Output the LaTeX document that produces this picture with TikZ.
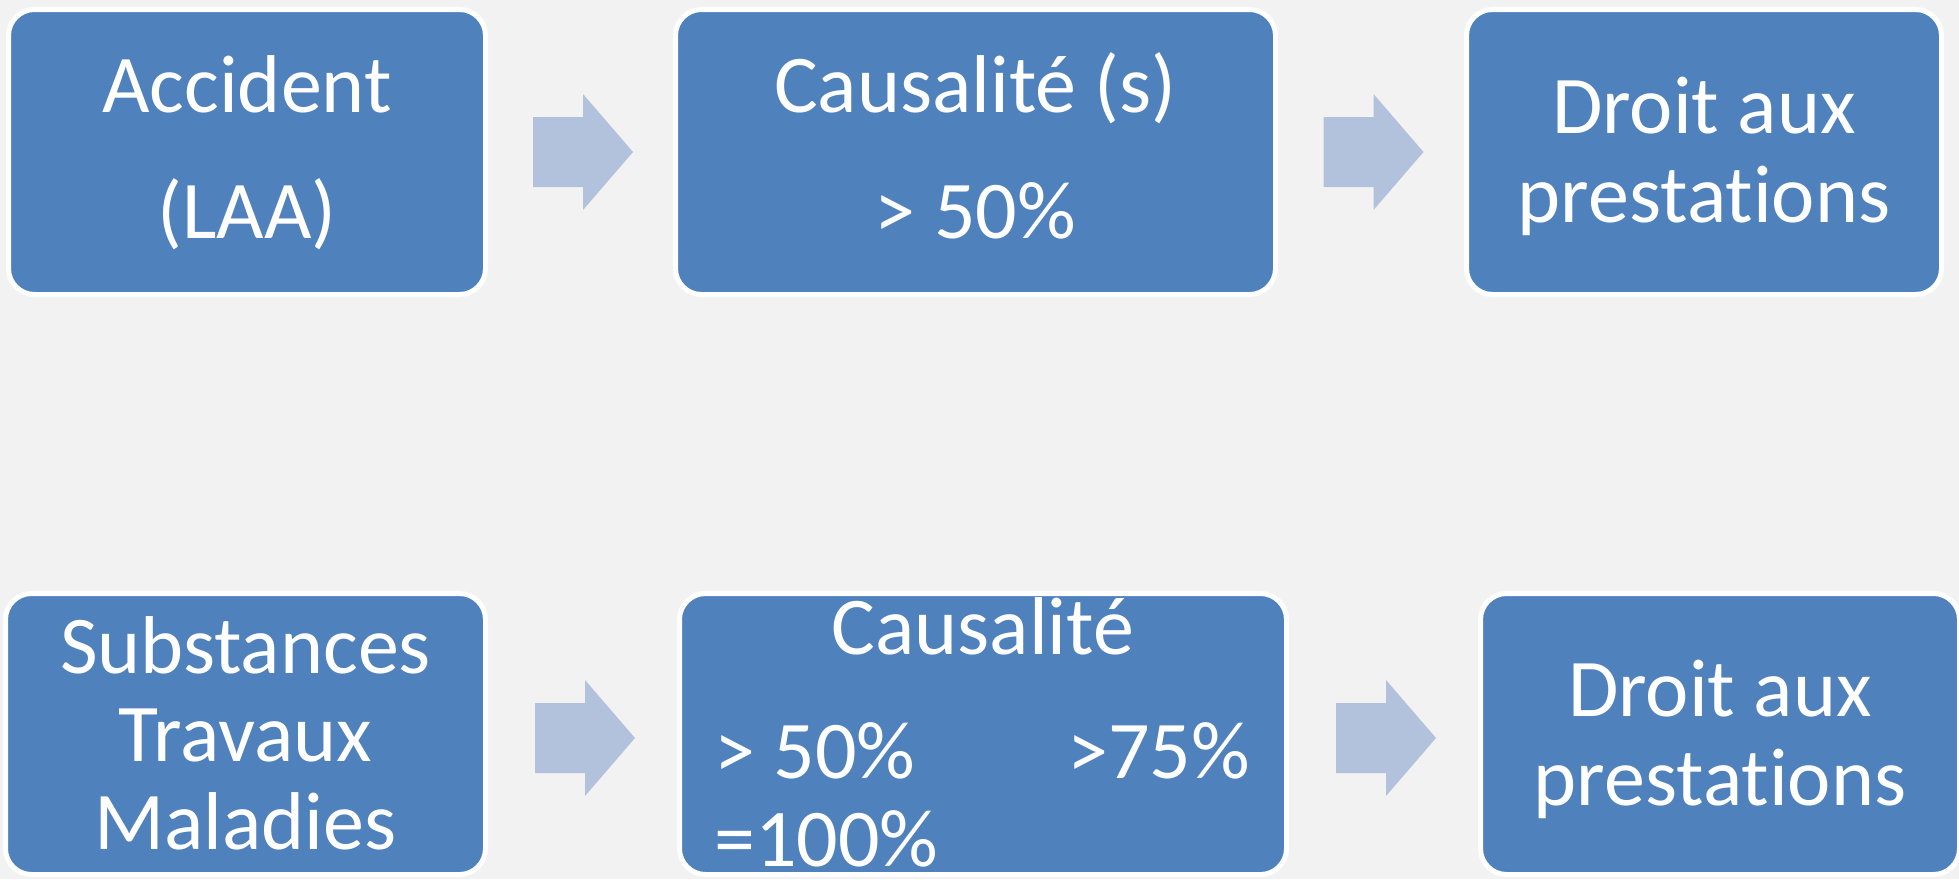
\documentclass[tikz,border=0pt]{standalone}
\usepackage{fontspec}
\setmainfont[Ligatures={NoCommon,NoRequired,NoContextual}]{Carlito}
\usetikzlibrary{calc}
\definecolor{boxblue}{HTML}{4F81BD}
\definecolor{arrowblue}{HTML}{B3C2DC}
\definecolor{pagegrey}{HTML}{F2F2F2}

\begin{document}
\begin{tikzpicture}[
         x=0.5pt, y=-0.5pt,
         stage/.style={rectangle, rounded corners=13pt, fill=boxblue, draw=white, line width=2.5pt},
         toprow/.style={stage, minimum height=142.5pt},
         bottomrow/.style={stage, minimum height=140.5pt},
         caption/.style={anchor=base, inner sep=0pt, text=white, font=\fontsize{41}{49}\selectfont},
         flow/.style={fill=arrowblue},
         pics/flowarrow/.style={code={
            \fill[flow] (-50,-35) -- (0,-35) -- (0,-58) -- (50,0) -- (0,58) -- (0,35) -- (-50,35) -- cycle;
         }}
      ]
         % Background
         \path[use as bounding box, fill=pagegrey] (0,0) rectangle (1959,879);

         % Boxes, first row
         \node[toprow, minimum width=238.5pt] (accident) at (247,152) {};
         \node[toprow, minimum width=300pt] (causal) at (975.5,152) {};
         \node[toprow, minimum width=237.5pt] (droit) at (1704,152) {};

         % Boxes, second row
         \node[bottomrow, minimum width=240pt] (substances) at (245.5,734) {};
         \node[bottomrow, minimum width=303.5pt] (causalmp) at (983,734) {};
         \node[bottomrow, minimum width=239.5pt] (droitmp) at (1720,734) {};

         % Block arrows between the boxes
         \foreach \from/\to/\dy in {accident/causal/0, causal/droit/0, substances/causalmp/4, causalmp/droitmp/4}
            \pic at ($(\from.east)!0.5!(\to.west)+(2.5,\dy)$) {flowarrow};

         % Texts, first row
         \node[caption] (accident-a) at (247,112) {Accident};
         \node[caption] (accident-b) at (247,238) {(LAA)};
         \node[caption] (causal-a) at (975.5,112) {Causalité (s)};
         \node[caption] (causal-b) at (975.5,238) {> 50\%};
         \node[caption] (droit-a) at (1704,133) {Droit aux};
         \node[caption] (droit-b) at (1704,222) {prestations};

         % Texts, second row
         \node[caption] (substances-a) at (245.5,673) {Substances};
         \node[caption] (substances-b) at (245.5,761) {Travaux};
         \node[caption] (substances-c) at (245.5,849) {Maladies};
         \node[caption] (causalmp-a) at (983,654) {Causalité};
         \node[caption, anchor=base west] (causalmp-b) at (714,778) {> 50\%};
         \node[caption, anchor=base west] (causalmp-c) at (1067,778) {>75\%};
         \node[caption, anchor=base west] (causalmp-d) at (714,866) {=100\%};
         \node[caption] (droitmp-a) at (1720,716) {Droit aux};
         \node[caption] (droitmp-b) at (1720,805) {prestations};

      \end{tikzpicture}
\end{document}
